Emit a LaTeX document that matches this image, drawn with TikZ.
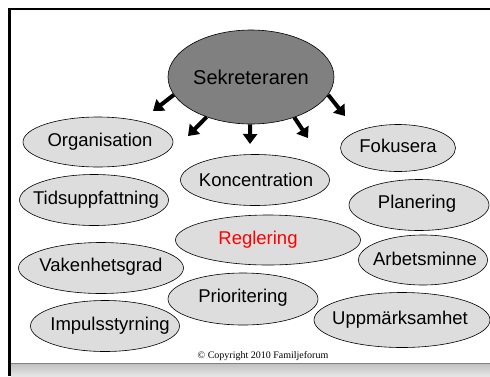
\documentclass[tikz,border=0pt]{standalone}
\usepackage{fontspec}
\setmainfont{Liberation Sans}
\newfontfamily\cpfont{Liberation Serif}
\usetikzlibrary{shapes.geometric,arrows.meta}
\definecolor{ellfill}{HTML}{DDDDDD}
\definecolor{mainfill}{HTML}{808080}
\tikzset{
  ell/.style={ellipse, draw=black, line width=0.6pt, fill=ellfill, inner sep=0pt},
  lbl/.style={font=\fontsize{18.5}{20}\selectfont},
  arr/.style={line width=4pt, -{Triangle[length=10pt,width=14pt]}},
}
\begin{document}
\begin{tikzpicture}[x=1pt,y=-1pt]
\useasboundingbox (0,0) rectangle (490,376);
\fill[white] (0,0) rectangle (490,376);
% frame
\shade[top color=black!25, bottom color=black!10] (11,363) rectangle (490,376);
\draw[black!50, line width=1pt] (11,363.5) -- (490,363.5);
\draw[black, line width=2pt] (9.5,8.5) -- (490,8.5);
\draw[black, line width=2.6pt] (9.5,7.5) -- (9.5,376);
% main
\node[ell, fill=mainfill, minimum width=166pt, minimum height=94pt] (main) at (251,77) {};
\node[font=\fontsize{20}{22}\selectfont] (maint) at (main.center) {Sekreteraren};
% satellites
\node[ell, minimum width=150pt, minimum height=50pt] (org) at (98,142) {};
\node[lbl] (orgt) at (100,142) {Organisation};
\node[ell, minimum width=149pt, minimum height=51pt] (tid) at (94,200) {};
\node[lbl] (tidt) at (96,200) {Tidsuppfattning};
\node[ell, minimum width=149pt, minimum height=51pt] (kon) at (255,180) {};
\node[lbl] (kont) at (256,180) {Koncentration};
\node[ell, minimum width=115pt, minimum height=47pt] (fok) at (398,148) {};
\node[lbl] (fokt) at (398,146) {Fokusera};
\node[ell, minimum width=140pt, minimum height=51pt] (pla) at (419,205) {};
\node[lbl] (plat) at (417,204) {Planering};
\node[ell, minimum width=185pt, minimum height=50pt] (reg) at (268,240) {};
\node[lbl, text=red] (regt) at (258,240) {Reglering};
\node[ell, minimum width=129pt, minimum height=50pt] (arb) at (423,260) {};
\node[lbl] (arbt) at (425,259) {Arbetsminne};
\node[ell, minimum width=165pt, minimum height=51pt] (vak) at (101,268) {};
\node[lbl] (vakt) at (101,267) {Vakenhetsgrad};
\node[ell, minimum width=150pt, minimum height=52pt] (pri) at (243,299) {};
\node[lbl] (prit) at (243,298) {Prioritering};
\node[ell, minimum width=149pt, minimum height=51pt] (imp) at (105,326) {};
\node[lbl] (impt) at (110,326) {Impulsstyrning};
\node[ell, minimum width=176pt, minimum height=55pt] (upp) at (402,320) {};
\node[lbl] (uppt) at (400,320) {Uppmärksamhet};
% arrows
\coordinate (t1) at (153,111);
\coordinate (t2) at (188,136);
\coordinate (t3) at (250,144);
\coordinate (t4) at (308,138);
\coordinate (t5) at (345,116);
\draw[arr] (main.193) -- (t1);
\draw[arr] (main.222) -- (t2);
\draw[arr] (main.269) -- (t3);
\draw[arr] (main.317) -- (t4);
\draw[arr] (main.347) -- (t5);
% copyright
\node[font=\cpfont\fontsize{10}{12}\selectfont] (cp) at (263,356) {© Copyright 2010 Familjeforum};
\end{tikzpicture}
\end{document}
